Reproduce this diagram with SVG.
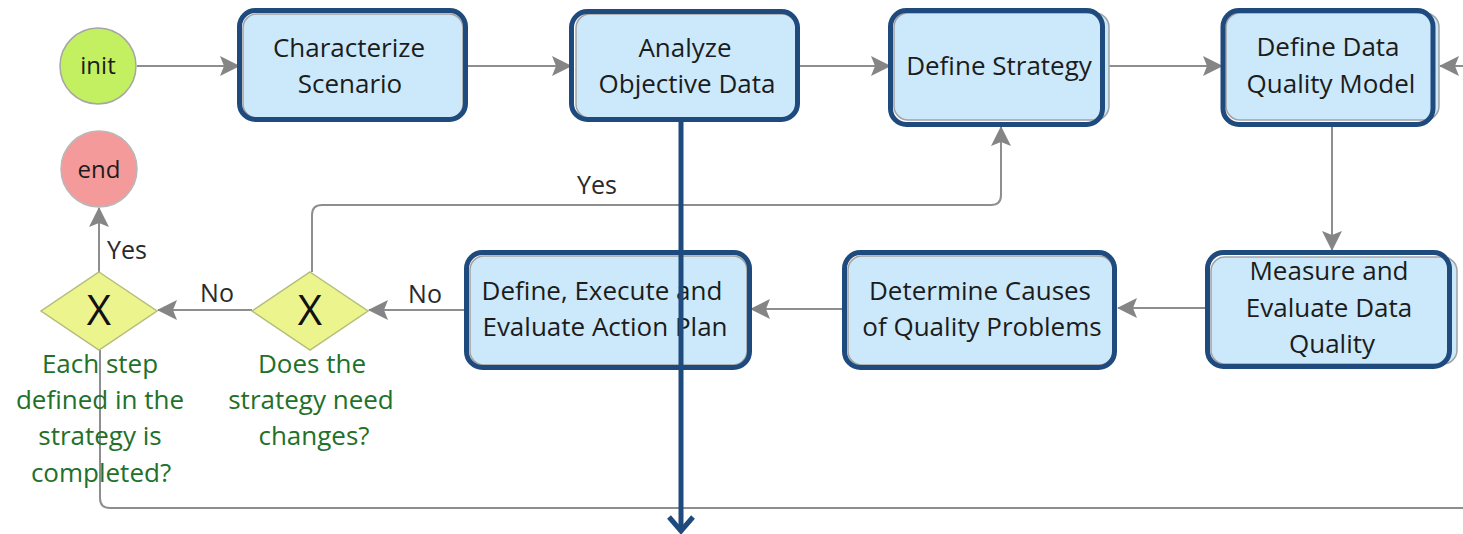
<svg xmlns="http://www.w3.org/2000/svg" width="1463" height="534" viewBox="0 0 1463 534">
  <style>
    .bg { fill: #ffffff; }
    .task-frame { fill: #cbe9fb; stroke: #a3a3a3; stroke-width: 1.5; }
    .task-border { fill: none; stroke: #1f4a7e; stroke-width: 5; }
    .task-text { font-family: "Open Sans", "Noto Sans", "Liberation Sans", sans-serif; font-size: 26px; fill: #1c1c1c; text-anchor: middle; }
    .event-text { font-family: "Open Sans", "Noto Sans", "Liberation Sans", sans-serif; font-size: 24px; fill: #1c1c1c; text-anchor: middle; }
    .gateway { fill: #ecf48e; stroke: #b5bd7a; stroke-width: 1.5; }
    .gateway-mark { font-family: "Open Sans", "Noto Sans", "Liberation Sans", sans-serif; font-size: 42px; fill: #111111; text-anchor: middle; }
    .question { font-family: "Open Sans", "Noto Sans", "Liberation Sans", sans-serif; font-size: 26px; fill: #22702a; text-anchor: middle; }
    .flow { fill: none; stroke: #8e8e8e; stroke-width: 2; }
    .flow-label { font-family: "Open Sans", "Noto Sans", "Liberation Sans", sans-serif; font-size: 25px; fill: #2a2a2a; }
    .focus { fill: none; stroke: #1f4a7e; stroke-width: 5; stroke-linecap: butt; stroke-linejoin: miter; }
  </style>
  <defs>
    <marker id="head" markerUnits="userSpaceOnUse" markerWidth="21" markerHeight="21" refX="19" refY="10" orient="auto">
      <path d="M0,0 L20,10 L0,20 L4,10 z" fill="#858585"/>
    </marker>
  </defs>

  <rect class="bg" x="0" y="0" width="1463" height="534"/>

  <!-- sequence flows -->
  <g id="connectors">
    <path class="flow" d="M137,66 H239" marker-end="url(#head)"/>
    <path class="flow" d="M468,66 H571" marker-end="url(#head)"/>
    <path class="flow" d="M800,66 H890" marker-end="url(#head)"/>
    <path class="flow" d="M1105,66 H1222" marker-end="url(#head)"/>
    <path class="flow" d="M1463,66 H1440" marker-end="url(#head)"/>
    <path class="flow" d="M1332,127 V250" marker-end="url(#head)"/>
    <path class="flow" d="M1205,308 H1118" marker-end="url(#head)"/>
    <path class="flow" d="M842,309 H751" marker-end="url(#head)"/>
    <path class="flow" d="M464,310 H369" marker-end="url(#head)"/>
    <path class="flow" d="M252,310 H158" marker-end="url(#head)"/>
    <path class="flow" d="M99,272 V208" marker-end="url(#head)"/>
    <path class="flow" d="M312,272 V215 Q312,205 322,205 H991 Q1001,205 1001,195 V127" marker-end="url(#head)"/>
    <path class="flow" d="M100,350 V498 Q100,508 110,508 H1463"/>
    <text class="flow-label" x="597" y="194" text-anchor="middle">Yes</text>
    <text class="flow-label" x="425" y="303" text-anchor="middle">No</text>
    <text class="flow-label" x="217" y="302" text-anchor="middle">No</text>
    <text class="flow-label" x="107" y="259">Yes</text>
  </g>

  <!-- start / end events -->
  <g id="init">
    <circle cx="98" cy="66" r="38" fill="#c2f060" stroke="#a6a6a6" stroke-width="1.5"/>
    <text class="event-text" x="98" y="74">init</text>
  </g>
  <g id="end">
    <circle cx="99" cy="169" r="38" fill="#f59a9b" stroke="#b8b8b8" stroke-width="1.5"/>
    <text class="event-text" x="99" y="178">end</text>
  </g>

  <!-- tasks -->
  <g id="characterize-scenario">
    <rect class="task-frame" x="243" y="14" width="220" height="104" rx="14"/>
    <rect class="task-border" x="239.5" y="10.5" width="226" height="109" rx="16"/>
    <text class="task-text" x="349" y="57">Characterize</text>
    <text class="task-text" x="350" y="93">Scenario</text>
  </g>
  <g id="analyze-objective-data">
    <rect class="task-frame" x="576" y="14" width="220" height="104" rx="14"/>
    <rect class="task-border" x="571.5" y="11.5" width="226" height="108" rx="16"/>
    <text class="task-text" x="685" y="57">Analyze</text>
    <text class="task-text" x="687" y="93">Objective Data</text>
  </g>
  <g id="define-strategy">
    <rect class="task-frame" x="894" y="13" width="215" height="107" rx="14"/>
    <rect class="task-border" x="890.5" y="10.5" width="212" height="114" rx="16"/>
    <text class="task-text" x="999" y="75">Define Strategy</text>
  </g>
  <g id="define-data-quality-model">
    <rect class="task-frame" x="1226" y="13" width="213" height="107" rx="14"/>
    <rect class="task-border" x="1223" y="10.5" width="210" height="114" rx="16"/>
    <text class="task-text" x="1328" y="56">Define Data</text>
    <text class="task-text" x="1331" y="93">Quality Model</text>
  </g>
  <g id="measure-evaluate-data-quality">
    <rect class="task-frame" x="1211" y="257" width="246" height="107" rx="14"/>
    <rect class="task-border" x="1207.5" y="252.5" width="242" height="114" rx="16"/>
    <text class="task-text" x="1329" y="280">Measure and</text>
    <text class="task-text" x="1329" y="317">Evaluate Data</text>
    <text class="task-text" x="1332" y="353">Quality</text>
  </g>
  <g id="determine-causes">
    <rect class="task-frame" x="848" y="256" width="265" height="109" rx="14"/>
    <rect class="task-border" x="844.5" y="252.5" width="270" height="115" rx="16"/>
    <text class="task-text" x="980" y="300">Determine Causes</text>
    <text class="task-text" x="982" y="336">of Quality Problems</text>
  </g>
  <g id="action-plan">
    <rect class="task-frame" x="470" y="256" width="277" height="109" rx="14"/>
    <rect class="task-border" x="466.5" y="252.5" width="283" height="115" rx="16"/>
    <text class="task-text" x="602" y="300">Define, Execute and</text>
    <text class="task-text" x="605" y="336">Evaluate Action Plan</text>
  </g>

  <!-- exclusive gateways -->
  <g id="strategy-completed">
    <polygon class="gateway" points="99,272 157,311 99,350 41,311"/>
    <text class="gateway-mark" x="99" y="325">X</text>
    <text class="question" x="100" y="373">Each step</text>
    <text class="question" x="100" y="409">defined in the</text>
    <text class="question" x="100" y="445">strategy is</text>
    <text class="question" x="101" y="482">completed?</text>
  </g>
  <g id="strategy-changes">
    <polygon class="gateway" points="310,272 368,311 310,350 252,311"/>
    <text class="gateway-mark" x="310" y="325">X</text>
    <text class="question" x="312" y="373">Does the</text>
    <text class="question" x="311" y="409">strategy need</text>
    <text class="question" x="314" y="445">changes?</text>
  </g>

  <!-- highlighted outgoing flow from the analysis step -->
  <g id="focus-arrow">
    <path class="focus" d="M681,122 V531"/>
    <polyline class="focus" points="669,517 681,531 693,517"/>
  </g>
</svg>
